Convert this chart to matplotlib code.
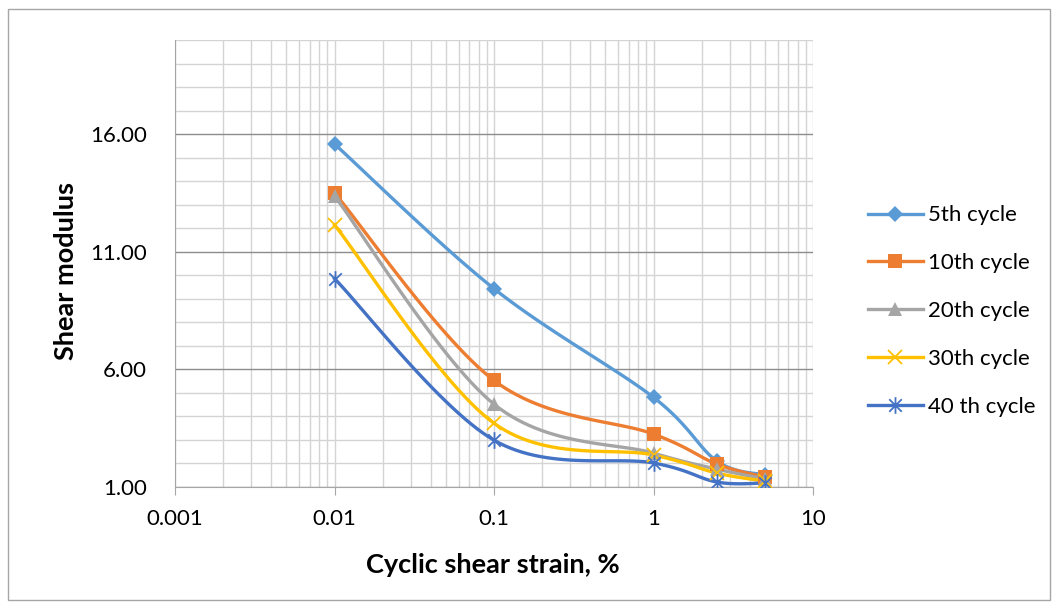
import numpy as np
import matplotlib.pyplot as plt
from matplotlib.path import Path
from matplotlib.ticker import FixedLocator, NullFormatter, FuncFormatter

# strain (%) and shear modulus per cycle
strain = [0.01, 0.1, 1, 2.5, 5]
g_5th = [15.58, 9.43, 4.81, 2.10, 1.51]
g_10th = [13.50, 5.53, 3.25, 1.97, 1.42]
g_20th = [13.37, 4.52, 2.44, 1.76, 1.34]
g_30th = [12.14, 3.71, 2.36, 1.59, 1.25]
g_40th = [9.86, 2.99, 2.02, 1.21, 1.17]

labels = ["5th cycle", "10th cycle", "20th cycle", "30th cycle", "40 th cycle"]
colors = ["#5B9BD5", "#ED7D31", "#A5A5A5", "#FFC000", "#4472C4"]

# excel style asterisk: vertical bar + X
star = Path([(0, -1), (0, 1), (-0.75, -0.75), (0.75, 0.75), (-0.75, 0.75), (0.75, -0.75)],
            [Path.MOVETO, Path.LINETO, Path.MOVETO, Path.LINETO, Path.MOVETO, Path.LINETO])
markers = ["D", "s", "^", "x", star]
msizes = [8, 10, 10, 10, 12]

plt.rcParams['font.family'] = ['Lato', 'DejaVu Sans']

fig = plt.figure(figsize=(10.59, 6.08), dpi=100)
ax = fig.add_axes([175 / 1059, 1 - 487 / 608, 638 / 1059, 447 / 608])
ax.set_xscale("log")
ax.set_xlim(0.001, 10)
ax.set_ylim(1, 20)

# px per unit, so the smoothing is done in screen space like excel does
sx = 638 / 4.0
sy = 447 / 19.0


def smooth(xs, ys, n=30):
    px = np.log10(xs) * sx
    py = np.array(ys) * sy
    pts = np.column_stack([px, py])
    out = []
    for i in range(len(pts) - 1):
        p0 = pts[i - 1] if i > 0 else pts[i]
        p1 = pts[i]
        p2 = pts[i + 1]
        p3 = pts[i + 2] if i + 2 < len(pts) else pts[i + 1]
        c1 = p1 + (p2 - p0) / 6
        c2 = p2 - (p3 - p1) / 6
        t = np.linspace(0, 1, n)[:, None]
        seg = ((1 - t) ** 3) * p1 + 3 * ((1 - t) ** 2) * t * c1 + 3 * (1 - t) * t ** 2 * c2 + t ** 3 * p2
        out.append(seg if i == 0 else seg[1:])
    out = np.vstack(out)
    return 10 ** (out[:, 0] / sx), out[:, 1] / sy


series = [g_5th, g_10th, g_20th, g_30th, g_40th]
for ys, lab, c, m, ms in zip(series, labels, colors, markers, msizes):
    line_marker = m in ("x",) or m is star
    mew = 1.3 if line_marker else 0
    cx, cy = smooth(strain, ys)
    ax.plot(cx, cy, color=c, linewidth=2.4, zorder=3)
    ax.plot(strain, ys, linestyle="none", marker=m, color=c, markersize=ms,
            markeredgewidth=mew, zorder=4)
    ax.plot([], [], color=c, linewidth=2.4, marker=m, markersize=ms,
            markeredgewidth=mew, label=lab)

# grid
ax.yaxis.set_major_locator(FixedLocator([1, 6, 11, 16]))
ax.yaxis.set_minor_locator(FixedLocator(np.arange(1, 21, 1)))
ax.yaxis.set_major_formatter(FuncFormatter(lambda v, p: "%.2f" % v))
ax.xaxis.set_major_formatter(FuncFormatter(lambda v, p: "%g" % v))
ax.xaxis.set_minor_formatter(NullFormatter())
ax.grid(which="both", color="#d4d4d4", linewidth=1.0)
ax.grid(which="major", axis="y", color="#8c8c8c", linewidth=1.0)
ax.set_axisbelow(True)

for s in ["top", "right"]:
    ax.spines[s].set_visible(False)
ax.spines["left"].set_color("#a6a6a6")
ax.spines["bottom"].set_color("#a6a6a6")
ax.tick_params(which="both", length=0, labelsize=16)
ax.tick_params(axis="y", pad=20)
ax.tick_params(axis="x", which="major", length=6, color="#a6a6a6", direction="out", pad=10)

fig.text(493 / 1059, 1 - 565 / 608, "Cyclic shear strain, %", fontsize=19.5,
         fontweight="bold", ha="center", va="center")
fig.text(66 / 1059, 1 - 271 / 608, "Shear modulus", fontsize=19.5,
         fontweight="bold", ha="center", va="center", rotation=90)

ax.legend(loc="center left", bbox_to_anchor=(857 / 1059, 1 - 311 / 608),
          bbox_transform=fig.transFigure, frameon=False, borderpad=0,
          fontsize=16, labelspacing=1.25, handlelength=2.45, handletextpad=0.25)

# chart border
fig.patches.append(plt.Rectangle((8 / 1059, 1 - 600 / 608), 1042 / 1059, 591 / 608,
                                 transform=fig.transFigure, fill=False,
                                 edgecolor="#a6a6a6", linewidth=1))

fig.savefig("out.png", dpi=100)
